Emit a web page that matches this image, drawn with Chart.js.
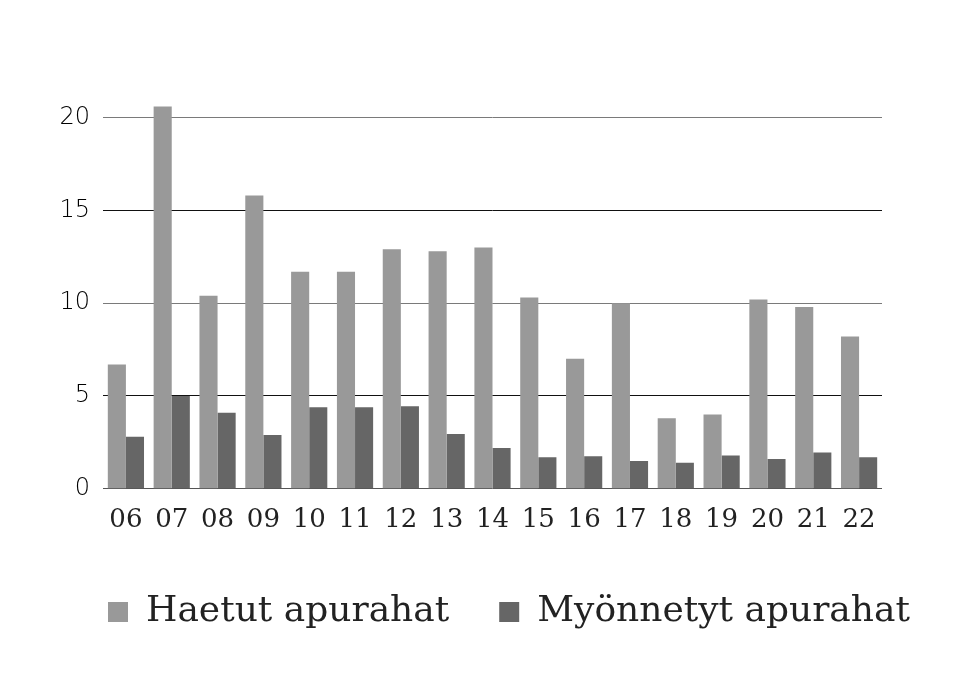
<!DOCTYPE html>
<html>
<head>
<meta charset="utf-8">
<script src="https://cdn.jsdelivr.net/npm/chart.js@4"></script>
<style>
  html, body { margin: 0; padding: 0; background: #fff; }
  #wrap { width: 960px; height: 690px; }
</style>
</head>
<body>
<div id="wrap"><canvas id="chart"></canvas></div>
<script>
const years = ['06', '07', '08', '09', '10', '11', '12', '13', '14', '15', '16', '17', '18', '19', '20', '21', '22'];
const applied = [6.7, 20.6, 10.4, 15.8, 11.7, 11.7, 12.9, 12.8, 13.0, 10.3, 7.0, 10.0, 3.8, 4.0, 10.2, 9.8, 8.2];
const granted = [2.8, 5.0, 4.1, 2.9, 4.4, 4.4, 4.45, 2.95, 2.2, 1.7, 1.75, 1.5, 1.4, 1.8, 1.6, 1.95, 1.7];
const yTicks = [0, 5, 10, 15, 20];

const gridColors = { 0: '#555555', 5: '#111111', 10: '#7a7a7a', 15: '#111111', 20: '#7a7a7a' };

new Chart(document.getElementById('chart'), {
    type: 'bar',
    data: {
        labels: years,
        datasets: [
            { label: 'Haetut apurahat', data: applied, backgroundColor: '#999999', categoryPercentage: 0.79, barPercentage: 1 },
            { label: 'Myönnetyt apurahat', data: granted, backgroundColor: '#666666', categoryPercentage: 0.79, barPercentage: 1 },
        ],
    },
    options: {
        responsive: true,
        maintainAspectRatio: false,
        animation: false,
        layout: { padding: { top: 99, left: 58, right: 0, bottom: 50 } },
        plugins: {
            tooltip: { enabled: false },
            legend: {
                position: 'bottom',
                align: 'start',
                labels: {
                    color: '#222',
                    font: { family: 'DejaVu Serif', size: 36 },
                    boxWidth: 20,
                    boxHeight: 20,
                    padding: 50,
                },
            },
        },
        scales: {
            x: {
                grid: { display: false },
                border: { display: false },
                ticks: { color: '#222', font: { family: 'DejaVu Serif', size: 26 }, padding: 8, maxRotation: 0 },
            },
            y: {
                min: 0,
                max: 21,
                afterBuildTicks: (scale) => { scale.ticks = yTicks.map((v) => ({ value: v })); },
                afterFit: (scale) => { scale.width = 45; },
                border: { display: false },
                grid: { drawTicks: false, lineWidth: 1, color: (ctx) => gridColors[ctx.tick.value] || '#777' },
                ticks: { color: '#000', font: { family: 'DejaVu Sans', size: 24, weight: '200' }, padding: 13 },
            },
            // empty right-hand margin so the legend can use the full width
            yRight: {
                position: 'right',
                min: 0,
                max: 21,
                afterFit: (scale) => { scale.width = 78; },
                grid: { display: false },
                border: { display: false },
                ticks: { display: false },
            },
        },
    },
});
</script>
</body>
</html>
